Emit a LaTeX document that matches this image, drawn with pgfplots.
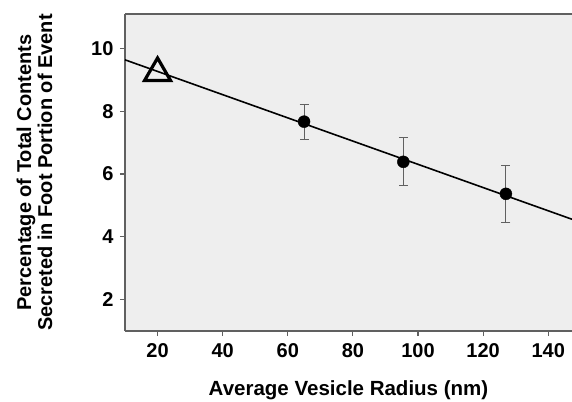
\documentclass[border=0pt]{standalone}
\usepackage{pgfplots}
\pgfplotsset{compat=1.18}
\usepackage{fontspec}
\setmainfont{Liberation Sans}
\definecolor{bgfill}{HTML}{EEEEEE}
\definecolor{axgray}{HTML}{606060}
\begin{document}
\begin{tikzpicture}
\begin{axis}[
  scale only axis,
  width=447pt, height=317pt,
  xmin=10, xmax=147.3,
  ymin=1, ymax=11.1,
  xtick={20,40,...,140},
  ytick={2,4,...,10},
  axis lines*=left,
  axis line style={axgray, line width=1.2pt},
  tick style={axgray, line width=1.2pt},
  tick align=outside,
  major tick length=5pt,
  axis background/.style={fill=bgfill},
  /pgf/number format/assume math mode=true,
  ticklabel style={font=\fontsize{20}{21}\selectfont\bfseries},
  xticklabel style={yshift=-4pt},
  yticklabel style={xshift=-3pt},
  xlabel={Average Vesicle Radius (nm)},
  xlabel style={font=\fontsize{20.5}{21}\selectfont\bfseries, yshift=-16pt},
  ylabel={Percentage of Total Contents\\Secreted in Foot Portion of Event},
  ylabel style={font=\fontsize{20}{21}\selectfont\bfseries, align=center, yshift=32pt},
  clip=false,
]
\draw[axgray, line width=1.2pt] (rel axis cs:0,1) -- (rel axis cs:1,1);
\coordinate (bl) at (rel axis cs:0,0);
\coordinate (tr) at (rel axis cs:1,1);
% regression line
\addplot[black, line width=1.6pt] coordinates {(10,9.64) (147.3,4.56)};
% triangle point
\addplot[only marks, mark=triangle, mark size=15pt, mark options={black, line width=3.2pt, fill=none}] coordinates {(20,9.22)};
% data with error bars
\addplot[only marks, mark=*, mark size=6pt, black,
  error bars/.cd, y dir=both, y explicit,
  error bar style={axgray, line width=1pt},
  error mark options={rotate=90, mark size=4.5pt, axgray, line width=1pt}]
  coordinates {
    (65,7.67) +- (0,0.56)
    (95.5,6.39) +- (0,0.77)
    (127,5.37) +- (0,0.9)
  };
\end{axis}
\pgfresetboundingbox
\path ([shift={(-125pt,-70pt)}]bl) rectangle ([shift={(0pt,14pt)}]tr);
\end{tikzpicture}
\end{document}
